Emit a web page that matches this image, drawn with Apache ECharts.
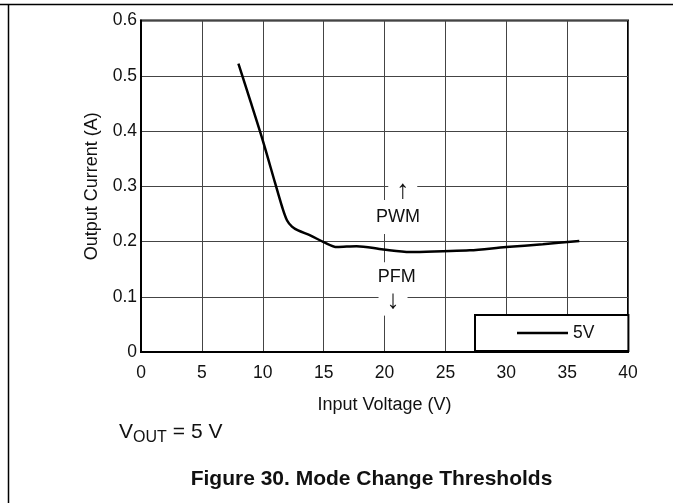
<!DOCTYPE html>
<html>
<head>
<meta charset="utf-8">
<script src="https://cdn.jsdelivr.net/npm/echarts@6/dist/echarts.min.js"></script>
<style>
html,body{margin:0;padding:0;background:#fff;}
#chart{width:673px;height:503px;}
</style>
</head>
<body>
<div id="chart"></div>
<script>
// Data
const inputVoltage = [8, 9, 10, 11, 11.6, 12, 12.4, 12.9, 13.9, 15, 16.1, 17.7, 19.9, 22.1, 24.8, 27, 30, 33, 36];
const outputCurrent = [0.522, 0.453, 0.383, 0.307, 0.262, 0.238, 0.227, 0.22, 0.211, 0.199, 0.19, 0.1916, 0.1855, 0.181, 0.1825, 0.184, 0.19, 0.195, 0.201];
const seriesName = '5V';
const noteTexts = ['↑', 'PWM', 'PFM', '↓'];
const noteX = [21.5, 21.1, 21.0, 20.7];
const noteY = [0.292, 0.2445, 0.136, 0.093];
const xTicks = {min: 0, max: 40, interval: 5};
const yTicks = {min: 0, max: 0.6, interval: 0.1};

const FONT = '"Liberation Sans", Arial, sans-serif';
const chart = echarts.init(document.getElementById('chart'), null, {renderer: 'canvas'});

const lineData = inputVoltage.map((v, i) => [v, outputCurrent[i]]);
const noteStyle = {
  '↑': {padding: [0, 8, 0, 8], fontSize: 26},
  'PWM': {padding: [8, 5, 8, 5], fontSize: 18},
  'PFM': {padding: [7, 4, 4, 4], fontSize: 18},
  '↓': {padding: [0, 8, 4, 8], fontSize: 26}
};
const noteData = noteTexts.map((t, i) => ({
  value: [noteX[i], noteY[i]], name: t,
  label: {padding: noteStyle[t].padding, fontSize: noteStyle[t].fontSize}
}));

chart.setOption({
  animation: false,
  backgroundColor: '#fff',
  grid: {left: 141, top: 20.5, right: 45, bottom: 151, show: true, borderColor: '#000', borderWidth: 2, containLabel: false},
  xAxis: {
    type: 'value', min: xTicks.min, max: xTicks.max, interval: xTicks.interval,
    name: 'Input Voltage (V)', nameLocation: 'middle', nameGap: 44,
    nameTextStyle: {fontFamily: FONT, fontSize: 18, color: '#111'},
    axisLine: {show: true, lineStyle: {color: '#000', width: 2}},
    axisTick: {show: false},
    axisLabel: {fontFamily: FONT, fontSize: 17.5, color: '#111', margin: 12},
    splitLine: {show: true, lineStyle: {color: '#444', width: 1}}
  },
  yAxis: {
    type: 'value', min: yTicks.min, max: yTicks.max, interval: yTicks.interval,
    name: 'Output Current (A)', nameLocation: 'middle', nameGap: 40, nameRotate: 90,
    nameTextStyle: {fontFamily: FONT, fontSize: 18, color: '#111'},
    axisLine: {show: true, lineStyle: {color: '#000', width: 2}},
    axisTick: {show: false},
    axisLabel: {fontFamily: FONT, fontSize: 17.5, color: '#111', margin: 4},
    splitLine: {show: true, lineStyle: {color: '#444', width: 1}}
  },
  legend: {
    show: true, left: 475, top: 315, orient: 'horizontal',
    data: [{name: seriesName, icon: 'rect'}],
    backgroundColor: '#fff', borderColor: '#000', borderWidth: 2,
    padding: [9, 34, 9, 42], itemWidth: 51, itemHeight: 2.5, itemGap: 5,
    itemStyle: {color: '#000'},
    textStyle: {fontFamily: FONT, fontSize: 17.5, color: '#111', lineHeight: 18}
  },
  series: [
    {
      name: seriesName, type: 'line', data: lineData, smooth: 0.3,
      symbol: 'none', showSymbol: false,
      lineStyle: {color: '#000', width: 2.5},
      itemStyle: {color: '#000'}, z: 3
    },
    {
      name: 'notes', type: 'scatter', data: noteData, symbolSize: 0, z: 4, silent: true,
      label: {
        show: true, position: 'inside',
        formatter: p => p.name,
        fontFamily: FONT, fontSize: 18, color: '#111', opacity: 1,
        textBorderWidth: 0, backgroundColor: '#fff'
      },
      emphasis: {disabled: true}
    }
  ],
  graphic: [
    {type: 'line', shape: {x1: 0, y1: 4.5, x2: 673, y2: 4.5}, style: {stroke: '#000', lineWidth: 1.5}},
    {type: 'line', shape: {x1: 8.5, y1: 4, x2: 8.5, y2: 503}, style: {stroke: '#000', lineWidth: 1.5}},
    {type: 'text', left: 119, top: 422, style: {text: 'V', font: '21px ' + FONT, fill: '#111'}},
    {type: 'text', left: 133, top: 430, style: {text: 'OUT', font: '16px ' + FONT, fill: '#111'}},
    {type: 'text', left: 167, top: 422, style: {text: ' = 5 V', font: '21px ' + FONT, fill: '#111'}},
    {type: 'text', x: 371.5, y: 479, style: {text: 'Figure 30. Mode Change Thresholds', font: 'bold 21px ' + FONT, fill: '#111', textAlign: 'center', textVerticalAlign: 'middle'}}
  ]
});
</script>
</body>
</html>
